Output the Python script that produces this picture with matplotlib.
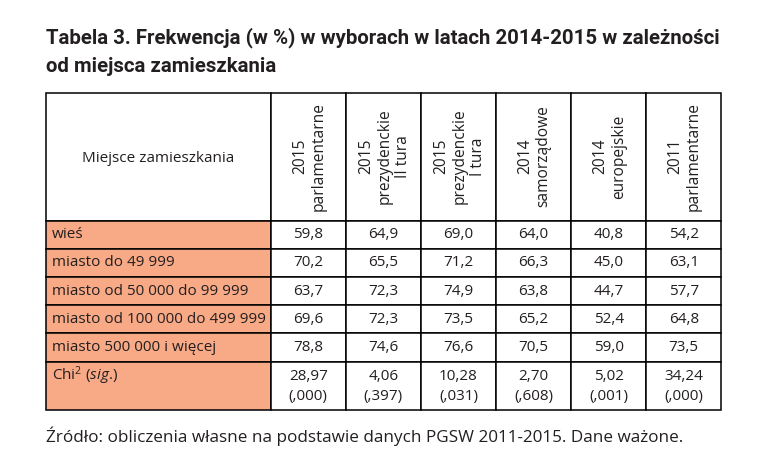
import matplotlib.pyplot as plt
from matplotlib.patches import Rectangle

plt.rcParams['font.family'] = ['Open Sans', 'DejaVu Sans']
plt.rcParams['mathtext.fontset'] = 'custom'
plt.rcParams['mathtext.rm'] = 'Open Sans'
plt.rcParams['mathtext.it'] = 'Open Sans:italic'

places = ['wieś', 'miasto do 49 999', 'miasto od 50 000 do 99 999',
          'miasto od 100 000 do 499 999', 'miasto 500 000 i więcej']
elections = ['2015\nparlamentarne', '2015\nprezydenckie\nII tura',
             '2015\nprezydenckie\nI tura', '2014\nsamorządowe',
             '2014\neuropejskie', '2011\nparlamentarne']
parl_2015 = [59.8, 70.2, 63.7, 69.6, 78.8]
prez2_2015 = [64.9, 65.5, 72.3, 72.3, 74.6]
prez1_2015 = [69.0, 71.2, 74.9, 73.5, 76.6]
samorz_2014 = [64.0, 66.3, 63.8, 65.2, 70.5]
euro_2014 = [40.8, 45.0, 44.7, 52.4, 59.0]
parl_2011 = [54.2, 63.1, 57.7, 64.8, 73.5]
chi2 = [28.97, 4.06, 10.28, 2.70, 5.02, 34.24]
sig = [0.000, 0.397, 0.031, 0.608, 0.001, 0.000]

columns = [parl_2015, prez2_2015, prez1_2015, samorz_2014, euro_2014, parl_2011]

ink = '#231f20'
orange = '#f8a985'

fig = plt.figure(figsize=(7.84, 4.63), dpi=100)
ax = fig.add_axes([0, 0, 1, 1])
ax.set_xlim(0, 784)
ax.set_ylim(463, 0)
ax.axis('off')

# layout (pixels)
x0, label_w, col_w = 45.7, 225.0, 75.1
top, head_h, row_h, chi_h = 92.5, 128.2, 28.2, 48.3
lw = 1.1

title_font = ['Roboto', 'Open Sans']
ax.text(45.7, 38, 'Tabela 3. Frekwencja (w %) w wyborach w latach 2014-2015 w zależności',
        fontsize=14.65, fontweight='bold', family=title_font,
        color=ink, ha='left', va='center')
ax.text(45.7, 67, 'od miejsca zamieszkania',
        fontsize=14.65, fontweight='bold', family=title_font,
        color=ink, ha='left', va='center')

def cell(x, y, w, h, fc='white'):
    ax.add_patch(Rectangle((x, y), w, h, facecolor=fc, edgecolor='black', lw=lw))

# header row
cell(x0, top, label_w, head_h)
ax.text(x0 + label_w / 2, top + head_h / 2 + 2, 'Miejsce zamieszkania', fontsize=11,
        color=ink, ha='center', va='center')
for j, name in enumerate(elections):
    xl = x0 + label_w + j * col_w
    cell(xl, top, col_w, head_h)
    ax.text(xl + col_w / 2 + 1, top + head_h / 2, name, rotation=90, fontsize=11.2,
            color=ink, ha='center', va='center', multialignment='center', linespacing=1.2)

# data rows
y = top + head_h
for i, place in enumerate(places):
    cell(x0, y, label_w, row_h, orange)
    ax.text(x0 + 6, y + row_h / 2, place, fontsize=11, color=ink, ha='left', va='center')
    for j, col in enumerate(columns):
        xl = x0 + label_w + j * col_w
        cell(xl, y, col_w, row_h)
        ax.text(xl + col_w / 2, y + row_h / 2, f'{col[i]:.1f}'.replace('.', ','),
                fontsize=11, color=ink, ha='center', va='center')
    y += row_h

# chi-square row
cell(x0, y, label_w, chi_h, orange)
ax.text(x0 + 6, y + 14, r'Chi$^2$ ($\mathit{sig}$.)', fontsize=11, color=ink,
        ha='left', va='center')
for j in range(len(chi2)):
    xl = x0 + label_w + j * col_w
    cell(xl, y, col_w, chi_h)
    ax.text(xl + col_w / 2, y + 15, f'{chi2[j]:.2f}'.replace('.', ','),
            fontsize=11, color=ink, ha='center', va='center')
    ax.text(xl + col_w / 2, y + 35, '(' + f'{sig[j]:.3f}'.replace('0.', ',', 1) + ')',
            fontsize=11, color=ink, ha='center', va='center')

ax.text(45.7, 436, 'Źródło: obliczenia własne na podstawie danych PGSW 2011-2015. Dane ważone.',
        fontsize=12.3, color=ink, ha='left', va='center')

fig.savefig('out.png', dpi=100)
